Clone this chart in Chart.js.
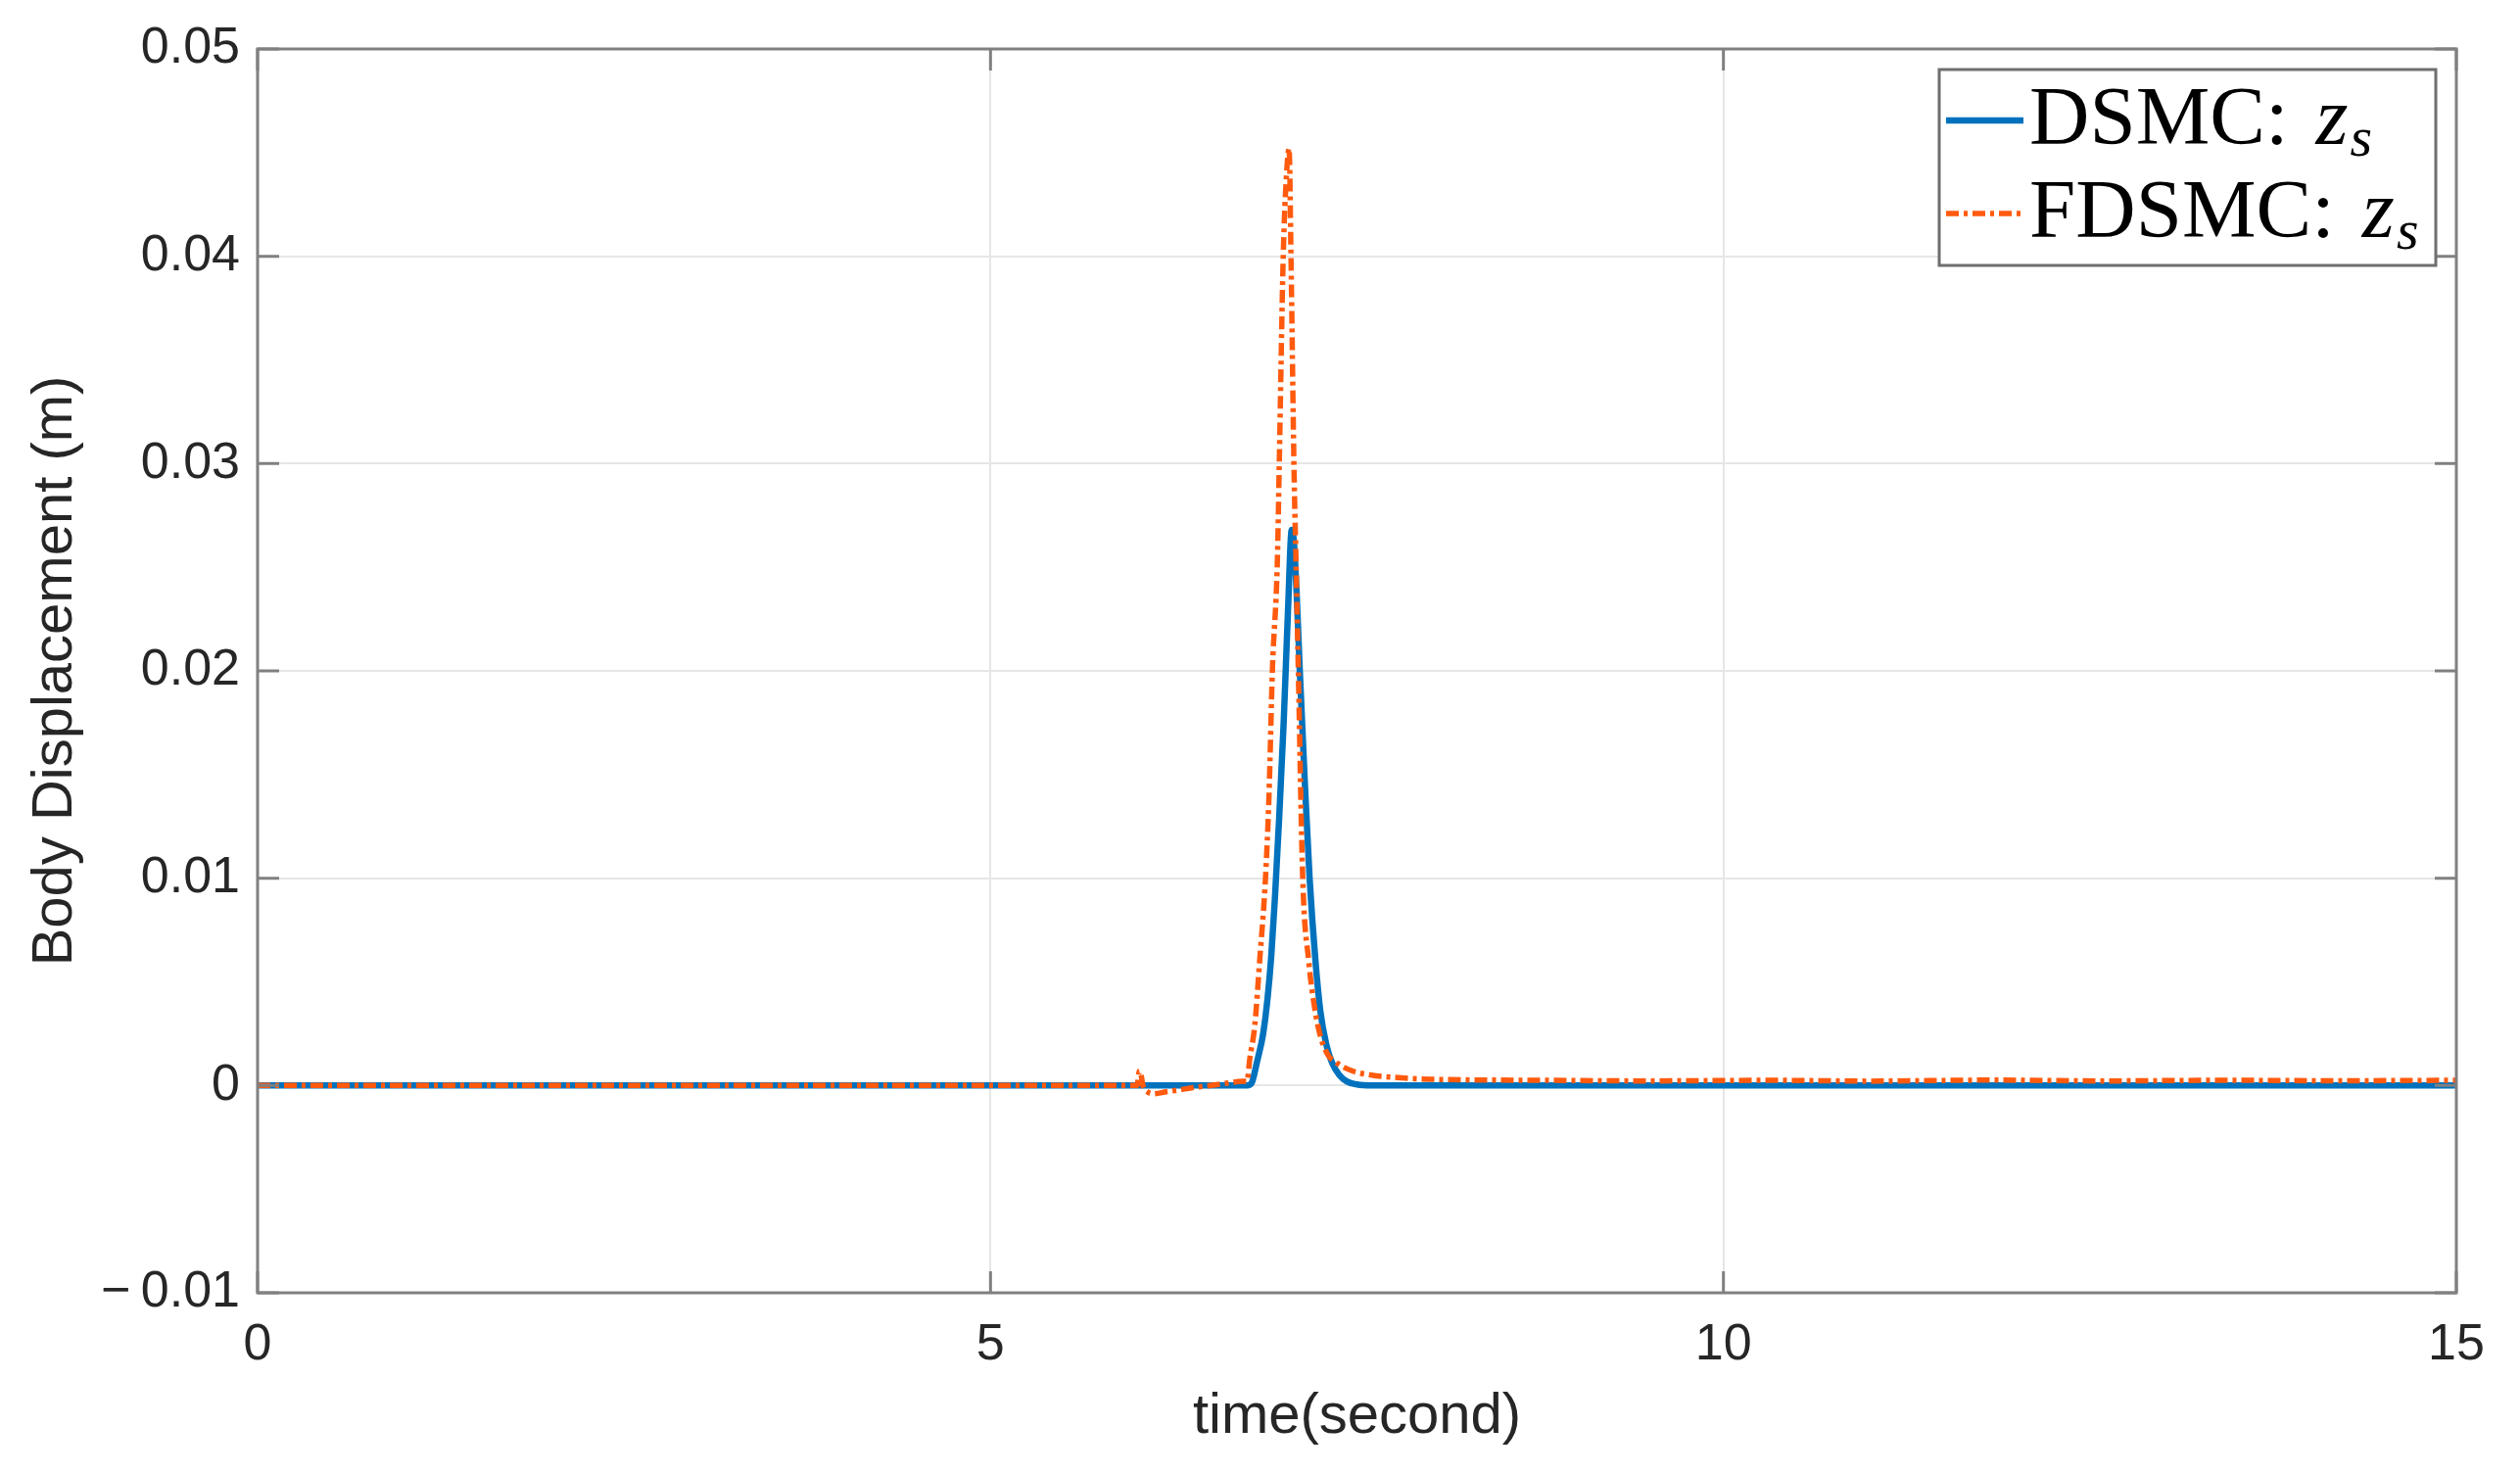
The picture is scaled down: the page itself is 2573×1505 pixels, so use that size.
<!DOCTYPE html>
<html>
<head>
<meta charset="utf-8">
<style>
  html, body { margin: 0; padding: 0; background: #fff; }
</style>
<script src="https://cdn.jsdelivr.net/npm/chart.js@4.4.1/dist/chart.umd.min.js"></script>
</head>
<body>
<canvas id="chart" width="2573" height="1505"></canvas>
<script>
'use strict';

// DSMC body displacement
const dsmcTime = [0, 3, 6.0, 6.5, 6.75, 6.78, 6.82, 6.86, 6.89, 6.915, 6.94, 6.97, 7.00, 7.03,
  7.055, 7.07, 7.09, 7.11, 7.145, 7.177, 7.217, 7.25, 7.29, 7.33, 7.38, 7.43, 7.5, 7.6, 9, 12, 15];
const dsmcValue = [0, 0, 0, 0, 0, 0.0001, 0.0012, 0.0025, 0.0042, 0.0062, 0.0090, 0.0130, 0.0175, 0.0230,
  0.0268, 0.0262, 0.0235, 0.0200, 0.0145, 0.0100, 0.0060, 0.0036, 0.0020, 0.0011, 0.0005, 0.0002, 0.00005, 0, 0, 0, 0];

// FDSMC body displacement
const fdsmcTime = [0, 3, 6.0, 6.015, 6.025, 6.04, 6.07, 6.11, 6.2, 6.3, 6.38, 6.5, 6.6, 6.72, 6.75, 6.769, 6.803,
  6.836, 6.876, 6.90, 6.923, 6.957, 6.970, 6.997, 7.02, 7.037, 7.05, 7.07, 7.085, 7.10, 7.13, 7.171, 7.21,
  7.25, 7.30, 7.36, 7.47, 7.6, 7.74, 8.0, 8.8, 9.5, 10.3, 11.0, 11.8, 12.6, 13.4, 14.2, 15];
const fdsmcValue = [0, 0, 0, 0.0007, 0.0006, 0.0000, -0.0003, -0.0004, -0.0003, -0.0002, -0.0001, 0, 0.0001, 0.0002,
  0.0002, 0.0013, 0.0029, 0.0060, 0.0100, 0.0140, 0.0200, 0.0253, 0.0300, 0.0400, 0.0440, 0.0452, 0.0400, 0.0300,
  0.0250, 0.0200, 0.0100, 0.0060, 0.0038, 0.0024, 0.0015, 0.0011, 0.0007, 0.0005, 0.0004, 0.0003, 0.00025, 0.00022,
  0.00025, 0.00021, 0.00026, 0.00022, 0.00025, 0.00023, 0.00025];

const xTicks = [0, 5, 10, 15];
const yTicks = [-0.01, 0, 0.01, 0.02, 0.03, 0.04, 0.05];
const seriesNames = ['DSMC:', 'FDSMC:'];

const blue = '#0072BD';
const orange = '#FF5A0E';
const axisColor = '#808080';
const textColor = '#262626';
const sansFont = '"Liberation Sans", Arial, Helvetica, sans-serif';
const serifFont = '"Liberation Serif", "Times New Roman", serif';

function toPoints(xs, ys) {
  return xs.map((x, i) => ({ x: x, y: ys[i] }));
}

function tickLabel(v) {
  const r = Math.round(v * 100) / 100;
  if (r === 0) return '0';
  if (r < 0) return '\u2212\u2009' + Math.abs(r).toFixed(2);
  return r.toFixed(2);
}

// inward ticks and the box round the plot, then the legend
const framePlugin = {
  id: 'frame',
  afterDatasetsDraw(chart) {
    const ctx = chart.ctx;
    const a = chart.chartArea;
    const xs = chart.scales.x;
    const ys = chart.scales.y;
    const tickLen = 22;
    ctx.save();
    ctx.strokeStyle = axisColor;
    ctx.lineWidth = 3;
    ctx.beginPath();
    xTicks.forEach(t => {
      const px = xs.getPixelForValue(t);
      ctx.moveTo(px, a.bottom); ctx.lineTo(px, a.bottom - tickLen);
      ctx.moveTo(px, a.top); ctx.lineTo(px, a.top + tickLen);
    });
    yTicks.forEach(t => {
      const py = ys.getPixelForValue(t);
      ctx.moveTo(a.left, py); ctx.lineTo(a.left + tickLen, py);
      ctx.moveTo(a.right, py); ctx.lineTo(a.right - tickLen, py);
    });
    ctx.stroke();
    ctx.strokeRect(a.left, a.top, a.right - a.left, a.bottom - a.top);
    ctx.restore();
  },
  afterDraw(chart) {
    const ctx = chart.ctx;
    const a = chart.chartArea;
    const boxW = 507, boxH = 200;
    const bx = a.right - 21 - boxW;
    const by = a.top + 21;
    ctx.save();
    ctx.fillStyle = '#fff';
    ctx.fillRect(bx, by, boxW, boxH);
    ctx.strokeStyle = '#6e6e6e';
    ctx.lineWidth = 3;
    ctx.strokeRect(bx, by, boxW, boxH);

    const styles = [
      { color: blue, width: 6.5, dash: [] },
      { color: orange, width: 5.5, dash: [13, 5, 4, 5] }
    ];
    seriesNames.forEach((name, i) => {
      const base = by + 76 + i * 95;
      const ly = base - 24;
      ctx.strokeStyle = styles[i].color;
      ctx.lineWidth = styles[i].width;
      ctx.setLineDash(styles[i].dash);
      ctx.beginPath();
      ctx.moveTo(bx + 7, ly);
      ctx.lineTo(bx + 86, ly);
      ctx.stroke();
      ctx.setLineDash([]);

      ctx.fillStyle = '#000';
      ctx.textBaseline = 'alphabetic';
      ctx.textAlign = 'left';
      ctx.font = '85px ' + serifFont;
      const tx = bx + 92;
      ctx.fillText(name, tx, base);
      const zx = tx + ctx.measureText(name).width + 28;
      ctx.font = 'italic 85px ' + serifFont;
      ctx.fillText('z', zx, base);
      const sx = zx + ctx.measureText('z').width + 2;
      ctx.font = 'italic 58px ' + serifFont;
      ctx.fillText('s', sx, base + 12);
    });
    ctx.restore();
  }
};

const ctx = document.getElementById('chart').getContext('2d');
new Chart(ctx, {
  type: 'line',
  data: {
    datasets: [
      {
        label: seriesNames[0],
        data: toPoints(dsmcTime, dsmcValue),
        borderColor: blue,
        borderWidth: 6.5,
        pointRadius: 0,
        cubicInterpolationMode: 'monotone',
        order: 1
      },
      {
        label: seriesNames[1],
        data: toPoints(fdsmcTime, fdsmcValue),
        borderColor: orange,
        borderWidth: 5.5,
        borderDash: [13, 5, 4, 5],
        pointRadius: 0,
        cubicInterpolationMode: 'monotone',
        order: 0
      }
    ]
  },
  options: {
    responsive: false,
    devicePixelRatio: 1,
    animation: false,
    layout: { padding: { left: 0, right: 65, top: 50, bottom: 0 } },
    plugins: {
      legend: { display: false },
      tooltip: { enabled: false }
    },
    scales: {
      x: {
        type: 'linear',
        min: 0,
        max: 15,
        afterBuildTicks(scale) { scale.ticks = xTicks.map(v => ({ value: v })); },
        afterFit(scale) { scale.height = 185; },
        ticks: {
          padding: 22,
          color: textColor,
          font: { family: sansFont, size: 52 },
          maxRotation: 0
        },
        grid: { color: '#e6e6e6', lineWidth: 2, drawTicks: false },
        border: { display: false },
        title: {
          display: true,
          text: 'time(second)',
          color: textColor,
          font: { family: sansFont, size: 58 },
          padding: { top: 0, bottom: 23 }
        }
      },
      y: {
        min: -0.01,
        max: 0.05,
        afterBuildTicks(scale) { scale.ticks = yTicks.map(v => ({ value: v })); },
        afterFit(scale) { scale.width = 263; },
        ticks: {
          padding: 18,
          color: textColor,
          font: { family: sansFont, size: 52 },
          callback: v => tickLabel(v)
        },
        grid: { color: '#e6e6e6', lineWidth: 2, drawTicks: false },
        border: { display: false },
        title: {
          display: true,
          text: 'Body Displacement (m)',
          color: textColor,
          font: { family: sansFont, size: 58 },
          padding: { top: 22, bottom: 0 }
        }
      }
    }
  },
  plugins: [framePlugin]
});
</script>
</body>
</html>
